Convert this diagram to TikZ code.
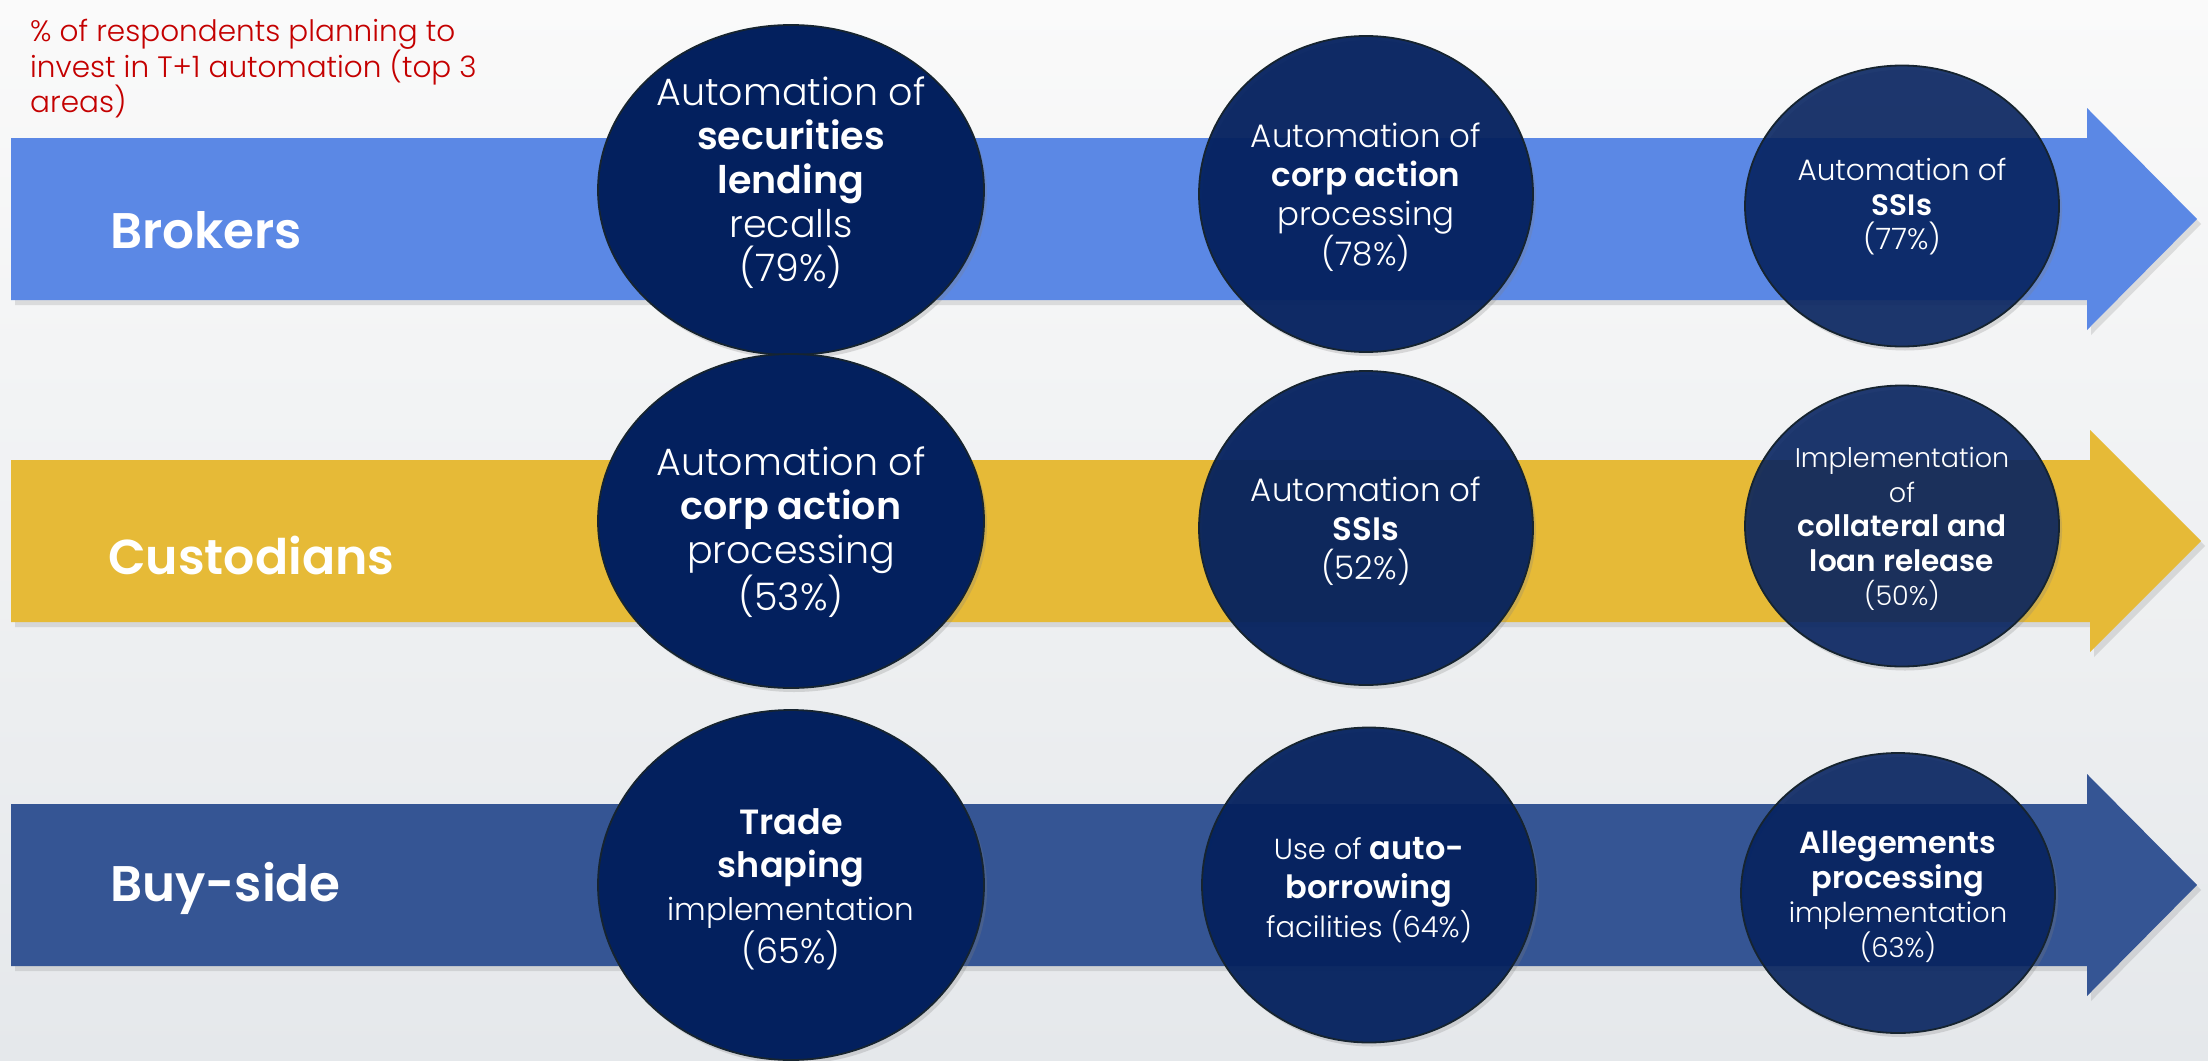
\documentclass[tikz,border=0pt]{standalone}
\usepackage{fontspec}
\setmainfont{Poppins}[UprightFont=* Light, BoldFont=* SemiBold]
\newfontfamily\labelfont{Poppins}[UprightFont=* SemiBold]
\usetikzlibrary{shadows,shapes.geometric}

\definecolor{bgtop}{RGB}{250,250,250}
\definecolor{bgbottom}{RGB}{229,232,235}
\definecolor{brokerblue}{RGB}{91,136,229}
\definecolor{custgold}{RGB}{230,186,55}
\definecolor{buyblue}{RGB}{53,85,148}
\definecolor{navy}{RGB}{3,32,94}
\definecolor{rimdark}{RGB}{22,36,48}
\definecolor{notered}{RGB}{196,0,0}

\tikzset{
  bar/.style={drop shadow={opacity=0.22, shadow xshift=4pt, shadow yshift=-5pt}},
  barlabel/.style={anchor=west, text=white, font=\labelfont\fontsize{50}{53}\selectfont, inner sep=0pt},
  bubble/.style={ellipse, draw=rimdark, line width=1.8pt, fill=navy, inner sep=0pt,
    drop shadow={opacity=0.25, shadow xshift=3pt, shadow yshift=-4pt}},
  bubbletext/.style={text=white, align=center, inner sep=0pt},
  bigtext/.style={bubbletext, font=\fontsize{38}{44}\selectfont},
  midtext/.style={bubbletext, font=\fontsize{32.5}{39}\selectfont},
  smalltext/.style={bubbletext, font=\fontsize{29.5}{34.5}\selectfont},
}

\begin{document}
\begin{tikzpicture}[x=1pt,y=-1pt]
\useasboundingbox (0,0) rectangle (2208,1060);
\shade[top color=bgtop, bottom color=bgbottom] (0,0) rectangle (2208,1060);

% caption
\node[anchor=north west, align=left, text=notered, inner sep=0pt,
      font=\fontsize{29.5}{35.5}\selectfont] (note) at (30,19)
  {\% of respondents planning to\\invest in T+1 automation (top 3\\areas)};

% the three arrows
\fill[brokerblue, bar] (11,138) -- (2087,138) -- (2087,108) -- (2197,219)
  -- (2087,330) -- (2087,300) -- (11,300) -- cycle;
\fill[custgold, bar] (11,460) -- (2090,460) -- (2090,430) -- (2201,541)
  -- (2090,652) -- (2090,622) -- (11,622) -- cycle;
\fill[buyblue, bar] (11,804) -- (2087,804) -- (2087,774) -- (2197,885)
  -- (2087,996) -- (2087,966) -- (11,966) -- cycle;

\node[barlabel] (lblbrokers) at (110,230) {Brokers};
\node[barlabel, font=\labelfont\fontsize{49}{52}\selectfont] (lblcust) at (108,556) {Custodians};
\node[barlabel] (lblbuy) at (110,888) {Buy-side};

% first column
\node[bubble, minimum width=386pt, minimum height=330pt] (b11) at (791,190) {};
\node[bubble, minimum width=386pt, minimum height=334pt] (b21) at (791,521) {};
\node[bubble, minimum width=386pt, minimum height=350pt] (b31) at (791,885) {};
% second column
\node[bubble, minimum width=334pt, minimum height=316pt, fill opacity=0.94] (b12) at (1366,194) {};
\node[bubble, minimum width=334pt, minimum height=314pt, fill opacity=0.94] (b22) at (1366,528) {};
\node[bubble, minimum width=334pt, minimum height=315pt, fill opacity=0.94] (b32) at (1369,885) {};
% third column
\node[bubble, minimum width=314pt, minimum height=281pt, fill opacity=0.88] (b13) at (1902,206) {};
\node[bubble, minimum width=314pt, minimum height=281pt, fill opacity=0.88] (b23) at (1902,526) {};
\node[bubble, minimum width=314pt, minimum height=280pt, fill opacity=0.88] (b33) at (1898,893) {};

% texts
\node[bigtext] (t11) at (791,183) {Automation of\\\textbf{securities}\\\textbf{lending}\\recalls\\(79\%)};
\node[bigtext] (t21) at (791,532) {Automation of\\\textbf{corp action}\\processing\\(53\%)};
\node[bigtext, font=\fontsize{35}{43}\selectfont] (t31) at (791,889) {\textbf{Trade}\\\textbf{shaping}\\{\fontsize{31}{43}\selectfont implementation}\\(65\%)};

\node[midtext] (t12) at (1366,197) {Automation of\\\textbf{corp action}\\processing\\(78\%)};
\node[midtext] (t22) at (1366,531) {Automation of\\\textbf{SSIs}\\(52\%)};
\node[midtext, font=\fontsize{29}{39}\selectfont] (t32) at (1369,890)
  {Use of {\fontsize{32}{39}\selectfont\textbf{auto-}}\\{\fontsize{32}{39}\selectfont\textbf{borrowing}}\\facilities (64\%)};

\node[smalltext] (t13) at (1902,207) {Automation of\\\textbf{SSIs}\\(77\%)};
\node[smalltext] (t23) at (1902,529)
  {{\fontsize{27}{34.5}\selectfont Implementation}\\{\fontsize{27}{34.5}\selectfont of}\\\textbf{collateral and}\\\textbf{loan release}\\{\fontsize{27}{34.5}\selectfont (50\%)}};
\node[smalltext, font=\fontsize{27.5}{34.5}\selectfont] (t33) at (1898,897)
  {{\fontsize{30.5}{34.5}\selectfont\textbf{Allegements}}\\{\fontsize{30.5}{34.5}\selectfont\textbf{processing}}\\implementation\\(63\%)};
\end{tikzpicture}
\end{document}
